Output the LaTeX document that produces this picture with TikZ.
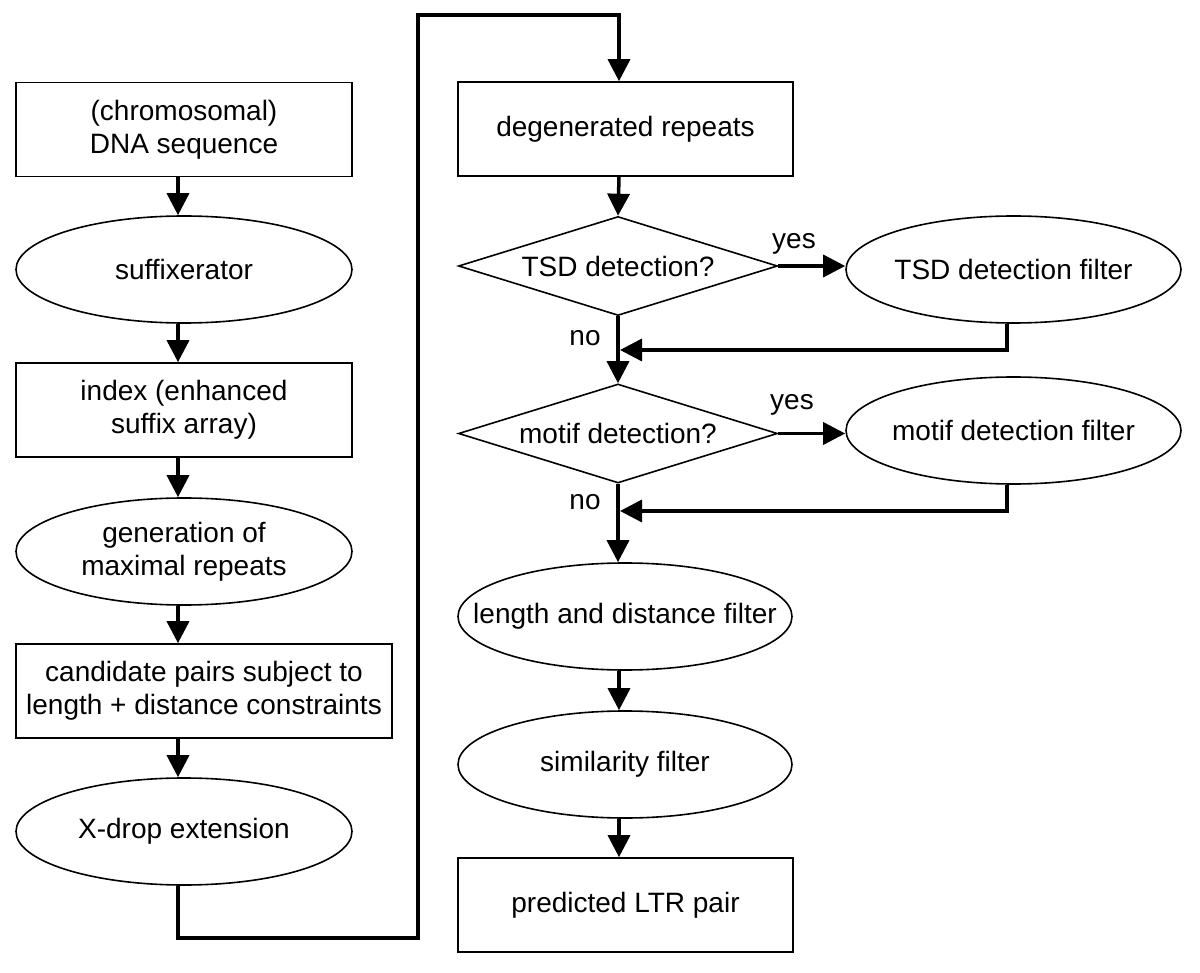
\documentclass[tikz,border=0pt]{standalone}
\usepackage{fontspec}
\setmainfont{Liberation Sans}
\usetikzlibrary{shapes.geometric,arrows.meta}
\newcommand{\nb}[1]{\makebox[0pt]{#1}}
\begin{document}
\begin{tikzpicture}[x=1pt,y=-1pt,
  every node/.style={font=\fontsize{28}{33}\selectfont, align=center, inner sep=0pt},
  rbox/.style={draw, line width=1.6pt, rectangle, minimum width=#1, minimum height=94pt},
  ell/.style={draw, line width=1.6pt, ellipse, minimum width=#1, minimum height=107pt},
  dia/.style={draw, line width=1.6pt, diamond, aspect=3.2, minimum width=319pt, minimum height=99pt},
  conn/.style={line width=3.5pt},
  arr/.style={conn, -{Triangle[width=22pt,length=22pt]}},
  lbl/.style={font=\fontsize{28}{33}\selectfont}
]
\useasboundingbox (0,0) rectangle (1200,973);
\coordinate (xL) at (178,0);
\coordinate (xR) at (619,0);
\coordinate (xF) at (1007,0);
% left column
\node[rbox=336pt] (dna) at (184,129.5) {(chromosomal)\\DNA sequence};
\node[ell=336pt] (suff) at (184,269.5) {\nb{suffixerator}};
\node[rbox=336pt] (idx) at (184,410) {index (enhanced\\suffix array)};
\node[ell=336pt] (gen) at (184,551.5) {generation of\\maximal repeats};
\node[rbox=376pt] (cand) at (204,691) {candidate pairs subject to\\length + distance constraints};
\node[ell=336pt] (xd) at (184,831.5) {\nb{X-drop extension}};
% right column
\node[rbox=335pt] (deg) at (625.5,129) {degenerated repeats};
\node[dia] (tsd) at (618,266) {TSD detection?};
\node[ell=335pt] (tsdf) at (1013.5,269.5) {\nb{TSD detection filter}};
\node[dia] (mot) at (618,433.5) {motif detection?};
\node[ell=335pt] (motf) at (1013.5,430.5) {\nb{motif detection filter}};
\node[ell=334pt] (len) at (625,616.5) {\nb{length and distance filter}};
\node[ell=334pt] (sim) at (625,764.5) {\nb{similarity filter}};
\node[rbox=335pt] (pred) at (625.5,905) {predicted LTR pair};
% labels
\node[lbl] (y1) at (794,244) {yes};
\node[lbl] (y2) at (792,405) {yes};
\node[lbl] (n1) at (585,338) {no};
\node[lbl] (n2) at (585,502) {no};
% junctions
\coordinate (lb) at (418,938);
\coordinate (lt) at (418,15);
\coordinate (j1) at (620,350);
\coordinate (j2) at (620,511);
% connectors
\draw[arr] (dna.south -| xL) -- (suff.north -| xL);
\draw[arr] (suff.south -| xL) -- (idx.north -| xL);
\draw[arr] (idx.south -| xL) -- (gen.north -| xL);
\draw[arr] (gen.south -| xL) -- (cand.north -| xL);
\draw[arr] (cand.south -| xL) -- (xd.north -| xL);
\draw[arr] (xd.south -| xL) |- (lb) -- (lt) -| (deg.north -| xR);
\draw[arr] (deg.south -| xR) -- (tsd.north);
\draw[arr] (tsd.east) -- (tsd.east -| tsdf.west);
\draw[arr] (tsd.south) -- (mot.north);
\draw[arr] (tsdf.south -| xF) |- (j1);
\draw[arr] (mot.east) -- (mot.east -| motf.west);
\draw[arr] (mot.south) -- (mot.south |- len.north);
\draw[arr] (motf.south -| xF) |- (j2);
\draw[arr] (len.south -| xR) -- (sim.north -| xR);
\draw[arr] (sim.south -| xR) -- (pred.north -| xR);
\end{tikzpicture}
\end{document}
